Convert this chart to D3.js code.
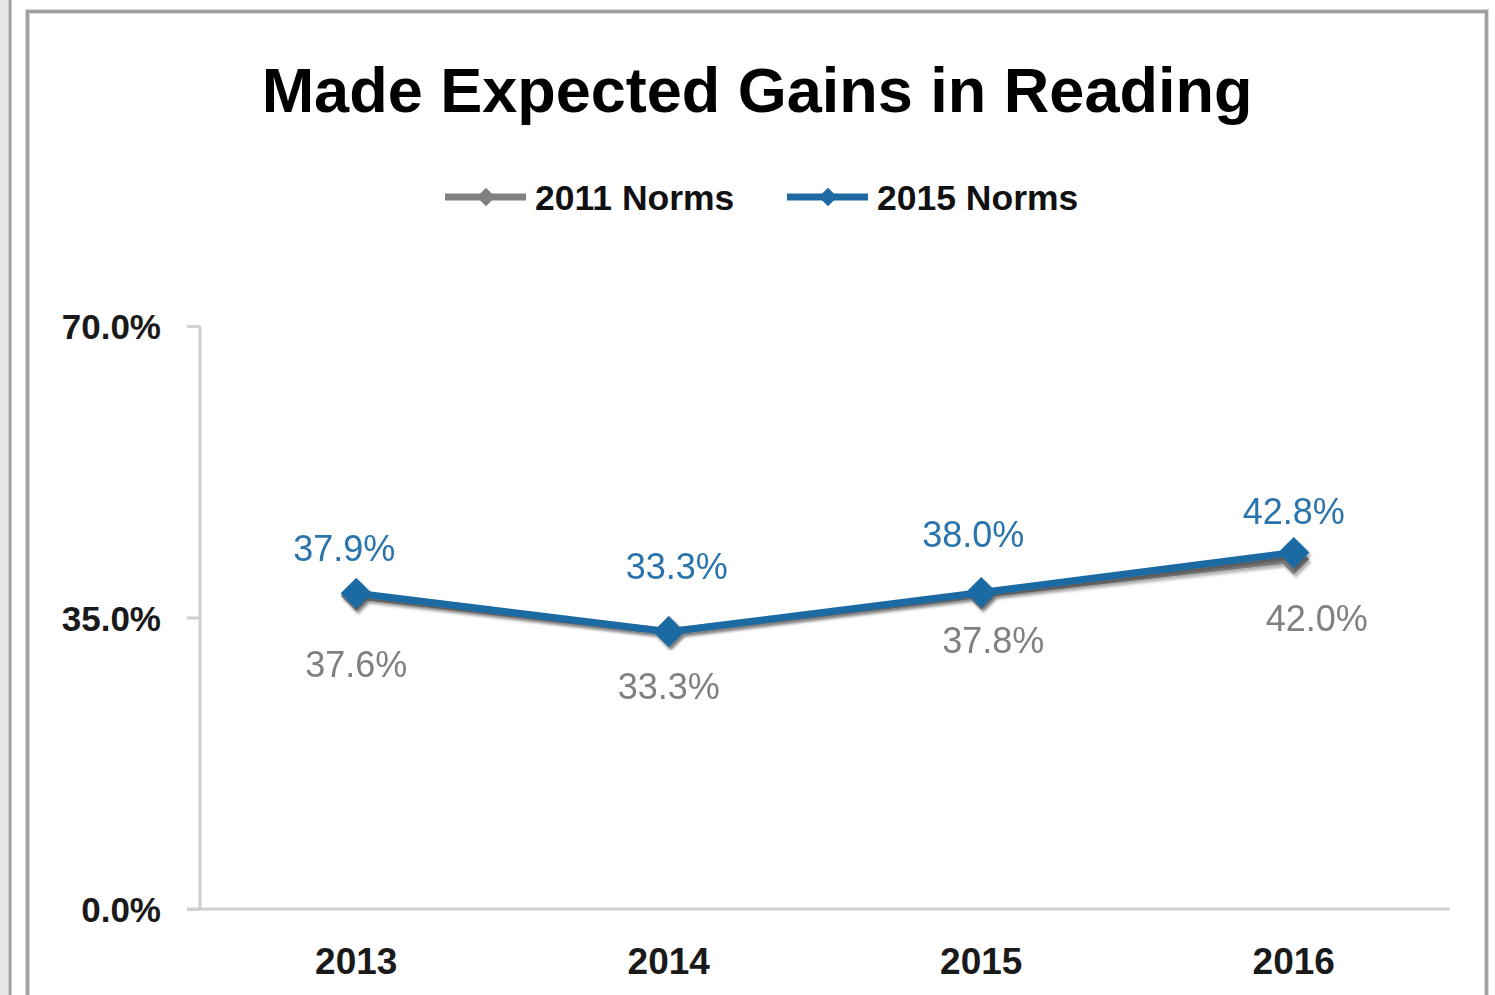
<!DOCTYPE html>
<html><head><meta charset="utf-8">
<script src="https://cdn.jsdelivr.net/npm/d3@7"></script>
<style>body{margin:0;background:#fff}svg{display:block}</style>
</head><body>
<script>
const categories = ["2013", "2014", "2015", "2016"];
const norms2011 = [37.6, 33.3, 37.8, 42.0];
const norms2015 = [37.9, 33.3, 38.0, 42.8];
const yTicks = [0, 35, 70];
const seriesNames = ["2011 Norms", "2015 Norms"];
// label placement offsets (layout only)
const off2011 = [[0, 68], [0, 54], [12, 46], [23, 59]];
const off2015 = [[-12, -45], [8, -66], [-8, -58], [0, -41]];

const W = 1495, H = 995;
const blue = "#1f6aa3", gray = "#808080";
const svg = d3.select("body").append("svg").attr("width", W).attr("height", H);

// neighbouring chart edge + frame
svg.append("rect").attr("x", 0).attr("y", -10).attr("width", 8).attr("height", H + 20).attr("fill", "#e6e6e6");
svg.append("line").attr("x1", 10).attr("x2", 10).attr("y1", 0).attr("y2", H).attr("stroke", "#a0a0a0").attr("stroke-width", 3);
svg.append("rect").attr("x", 27.5).attr("y", 11.5).attr("width", 1459).attr("height", H + 20)
  .attr("fill", "none").attr("stroke", "#d8d8d8").attr("stroke-width", 5);
svg.append("rect").attr("x", 27.5).attr("y", 11.5).attr("width", 1459).attr("height", H + 20)
  .attr("fill", "none").attr("stroke", "#a0a0a0").attr("stroke-width", 3);

const x = d3.scaleBand().domain(categories).range([200, 1450]);
const y = d3.scaleLinear().domain([0, 70]).range([909, 326]);
const cx = d => x(d) + x.bandwidth() / 2;

// title
svg.append("text").attr("x", 757).attr("y", 112).attr("text-anchor", "middle")
  .attr("font-family", "Liberation Sans, Arial, sans-serif").attr("font-weight", "bold")
  .attr("font-size", 63).attr("fill", "#000").text("Made Expected Gains in Reading");

// legend
const legend = [
  {name: seriesNames[0], color: gray, x0: 445},
  {name: seriesNames[1], color: blue, x0: 787}
];
legend.forEach(l => {
  const g = svg.append("g");
  g.append("line").attr("x1", l.x0).attr("x2", l.x0 + 81).attr("y1", 197).attr("y2", 197)
    .attr("stroke", l.color).attr("stroke-width", 7);
  g.append("path").attr("d", d3.symbol(d3.symbolDiamond2, 220)())
    .attr("transform", `translate(${l.x0 + 41},197)`).attr("fill", l.color);
  g.append("text").attr("x", l.x0 + 90).attr("y", 210)
    .attr("font-family", "Liberation Sans, Arial, sans-serif").attr("font-weight", "bold")
    .attr("font-size", 35.5).attr("fill", "#111").text(l.name);
});

// axes
const axisColor = "#d0d0d0";
const yAxis = svg.append("g").attr("transform", "translate(200,0)")
  .call(d3.axisLeft(y).tickValues(yTicks).tickSize(13).tickPadding(26).tickFormat(d => d3.format(".1f")(d) + "%"));
yAxis.select(".domain").attr("stroke", axisColor).attr("stroke-width", 3).attr("d", "M0,326V909");
yAxis.selectAll(".tick line").attr("stroke", axisColor).attr("stroke-width", 3);
yAxis.selectAll(".tick text").attr("font-family", "Liberation Sans, Arial, sans-serif")
  .attr("font-weight", "bold").attr("font-size", 35).attr("fill", "#1a1a1a").attr("dy", "0.36em");

const xAxis = svg.append("g").attr("transform", "translate(0,909)")
  .call(d3.axisBottom(x).tickSize(0).tickPadding(52));
xAxis.select(".domain").attr("stroke", axisColor).attr("stroke-width", 3).attr("d", "M187,0H1450");
xAxis.selectAll(".tick text").attr("font-family", "Liberation Sans, Arial, sans-serif")
  .attr("font-weight", "bold").attr("font-size", 37).attr("fill", "#1a1a1a").attr("dy", "0.36em");

// lines
const line = d3.line().x((d, i) => cx(categories[i])).y(d => y(d));
const defs = svg.append("defs");
const f = defs.append("filter").attr("id", "sh").attr("x", "-10%").attr("y", "-10%").attr("width", "120%").attr("height", "140%");
f.append("feDropShadow").attr("dx", 2).attr("dy", 3).attr("stdDeviation", 1.5).attr("flood-color", "#000").attr("flood-opacity", 0.3);

function drawSeries(vals, color) {
  const g = svg.append("g").attr("filter", "url(#sh)");
  g.append("path").datum(vals).attr("d", line).attr("fill", "none")
    .attr("stroke", color).attr("stroke-width", 7).attr("stroke-linejoin", "round");
  g.selectAll("path.m").data(vals).join("path").attr("class", "m")
    .attr("d", d3.symbol(d3.symbolDiamond2, 620)())
    .attr("transform", (d, i) => `translate(${cx(categories[i])},${y(d)})`)
    .attr("fill", color);
}
drawSeries(norms2011, gray);
drawSeries(norms2015, blue);

// data labels
function labels(vals, color, offs) {
  svg.append("g").selectAll("text").data(vals).join("text")
    .attr("x", (d, i) => cx(categories[i]) + offs[i][0])
    .attr("y", (d, i) => y(d) + offs[i][1])
    .attr("dy", "0.36em").attr("text-anchor", "middle")
    .attr("font-family", "Liberation Sans, Arial, sans-serif").attr("font-size", 36)
    .attr("fill", color).text(d => d3.format(".1f")(d) + "%");
}
labels(norms2011, "#808080", off2011);
labels(norms2015, "#2a74ad", off2015);
</script>
</body></html>
